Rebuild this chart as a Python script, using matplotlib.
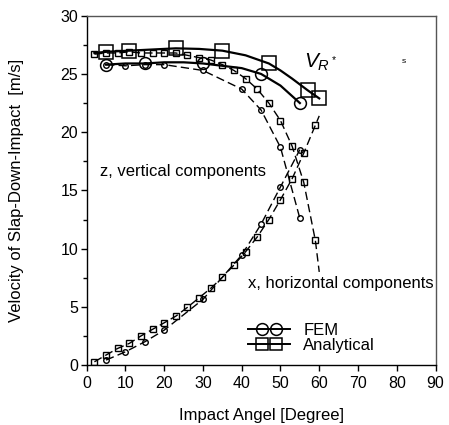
import numpy as np
import matplotlib.pyplot as plt
from matplotlib.legend_handler import HandlerLine2DCompound

plt.rcParams['font.family'] = ['Liberation Sans', 'DejaVu Sans']
plt.rcParams['mathtext.fontset'] = 'custom'
plt.rcParams['mathtext.it'] = 'Liberation Sans:italic'
plt.rcParams['mathtext.rm'] = 'Liberation Sans'

# solid curves (resultant velocity V_R*)
ana_r_x = [2, 5, 11, 17, 23, 29, 35, 41, 47, 50, 53, 57, 60]
ana_r_y = [26.8, 26.9, 27.0, 27.1, 27.2, 27.15, 27.0, 26.6, 25.9, 25.3, 24.6, 23.6, 22.9]
ana_r_mark = [1, 2, 4, 6, 8, 11, 12]

fem_r_x = [5, 10, 15, 20, 25, 30, 35, 40, 45, 50, 55]
fem_r_y = [25.8, 25.9, 25.9, 26.0, 26.0, 25.9, 25.7, 25.5, 25.0, 24.0, 22.5]
fem_r_mark = [0, 2, 5, 8, 10]

# dashed curves: analytical, x (horizontal) and z (vertical) components
ana_ang = [2, 5, 8, 11, 14, 17, 20, 23, 26, 29, 32, 35, 38, 41, 44, 47, 50, 53, 56, 59, 60]
ana_hor = [26.7, 26.8, 26.8, 26.9, 26.8, 26.8, 26.8, 26.8, 26.6, 26.4, 26.2, 25.8, 25.3,
           24.6, 23.7, 22.5, 21.0, 18.8, 15.7, 10.7, 8.0]
ana_ver = [0.28, 0.86, 1.43, 1.86, 2.5, 3.07, 3.63, 4.2, 4.96, 5.78, 6.59, 7.53, 8.59,
           9.73, 11.0, 12.5, 14.2, 16.0, 18.2, 20.6, 21.4]

# dashed curves: FEM components
fem_ang = [5, 10, 15, 20, 30, 40, 45, 50, 55]
fem_hor = [25.8, 25.7, 25.8, 25.8, 25.3, 23.7, 21.9, 18.7, 12.6]
fem_ver = [0.43, 1.14, 2.0, 3.0, 5.64, 9.45, 12.1, 15.3, 18.5]


class PairHandler(HandlerLine2DCompound):
    # full-length line with two markers close together in the middle
    def get_xdata(self, legend, xdescent, ydescent, width, height, fontsize):
        xdata = np.array([-xdescent, -xdescent + width])
        xm = np.array([-xdescent + 0.34 * width, -xdescent + 0.66 * width])
        return xdata, xm


fig = plt.figure(figsize=(4.49, 4.25), dpi=100)
ax = fig.add_axes([0.193, 0.141, 0.777, 0.822])

dash = (0, (6, 3))
n = len(ana_ang)
ax.plot(ana_ang, ana_hor, color='k', lw=1, ls=dash, marker='s', ms=4.5,
        mfc='none', mec='k', mew=1, markevery=list(range(n - 1)))
ax.plot(ana_ang, ana_ver, color='k', lw=1, ls=dash, marker='s', ms=4.5,
        mfc='none', mec='k', mew=1, markevery=list(range(n - 1)))
ax.plot(fem_ang, fem_hor, color='k', lw=1, ls=dash, marker='o', ms=4,
        mfc='none', mec='k', mew=1)
ax.plot(fem_ang, fem_ver, color='k', lw=1, ls=dash, marker='o', ms=4,
        mfc='none', mec='k', mew=1)

ax.plot(ana_r_x, ana_r_y, color='k', lw=1.6, marker='s', ms=9.5, mfc='none',
        mec='k', mew=1.1, markevery=ana_r_mark)
ax.plot(fem_r_x, fem_r_y, color='k', lw=1.6, marker='o', ms=8.5, mfc='none',
        mec='k', mew=1.1, markevery=fem_r_mark)

# legend
h1, = ax.plot([], [], color='k', lw=1.4, marker='o', ms=8.5, mfc='none', mec='k', mew=1.1)
h2, = ax.plot([], [], color='k', lw=1.4, marker='s', ms=9, mfc='none', mec='k', mew=1.1)
ax.legend([h1, h2], ['FEM', 'Analytical'], loc='lower left', bbox_to_anchor=(0.42, -0.008),
          frameon=False, handlelength=2.5, handletextpad=0.8,
          labelspacing=0.0, fontsize=12,
          handler_map={h1: PairHandler(), h2: PairHandler()})

ax.text(56.0, 26.0, r'$V_{R^*}$', fontsize=15, ha='left', va='center')
ax.text(3.4, 16.6, 'z, vertical components', fontsize=12, ha='left', va='center')
ax.text(41.5, 7.0, 'x, horizontal components', fontsize=12, ha='left', va='center')
ax.text(81.2, 26.1, 's', fontsize=6, ha='left', va='center')

ax.set_xlim(0, 90)
ax.set_ylim(0, 30)
ax.set_xticks(np.arange(0, 91, 10))
ax.set_yticks(np.arange(0, 31, 5))
ax.set_yticks(np.arange(0, 31, 2.5), minor=True)
ax.tick_params(axis='both', direction='out', labelsize=11.5, length=4, width=1, pad=2)
ax.tick_params(axis='x', pad=4)
ax.tick_params(axis='y', which='minor', direction='out', length=3, width=1)
ax.set_xlabel('Impact Angel [Degree]', fontsize=12, labelpad=12)
ax.set_ylabel('Velocity of Slap-Down-Impact  [m/s]', fontsize=12, labelpad=26)

for s in ['left', 'bottom']:
    ax.spines[s].set_linewidth(1)
    ax.spines[s].set_color('k')
for s in ['top', 'right']:
    ax.spines[s].set_linewidth(1)
    ax.spines[s].set_color('#555555')

fig.savefig('out.png', dpi=100)
